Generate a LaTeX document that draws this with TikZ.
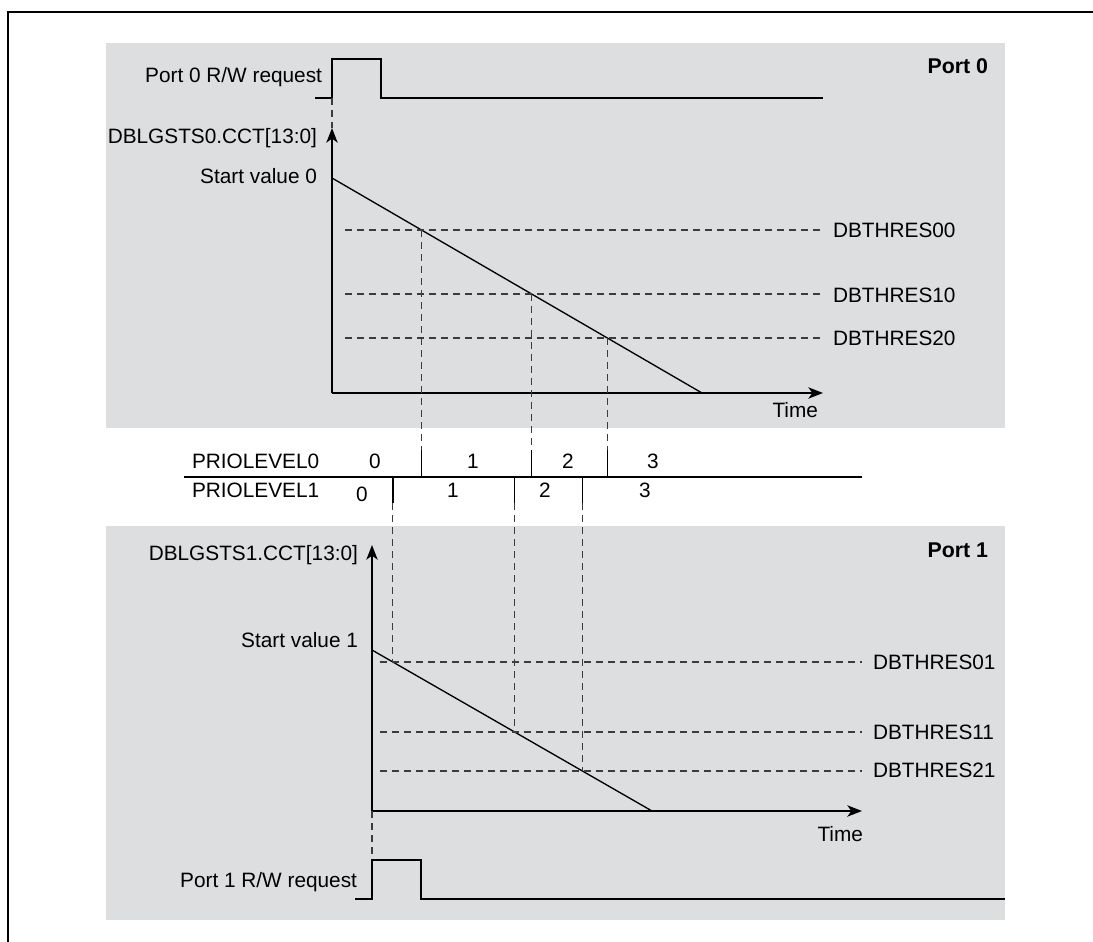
\documentclass[tikz,border=0pt]{standalone}
\usepackage{fontspec}
\setmainfont{Liberation Sans}
\usetikzlibrary{arrows.meta,calc}
\definecolor{panel}{RGB}{221,222,224}
\definecolor{dashgray}{RGB}{60,60,60}
\begin{document}
\begin{tikzpicture}[x={(0.75pt,0pt)},y={(0pt,-0.75pt)},
  every node/.style={font=\fontsize{15.6}{18}\selectfont, inner sep=0pt, outer sep=0pt},
  sig/.style={line width=1.2pt},
  thr/.style={dashgray, line width=0.9pt, dash pattern=on 5.5pt off 3.5pt},
  vdash/.style={dashgray, line width=0.9pt, dash pattern=on 5.5pt off 3.5pt},
  axis/.style={line width=1.2pt, -{Stealth[length=11pt,width=8.5pt,inset=3pt]}},
  rlbl/.style={anchor=base east},
  llbl/.style={anchor=base west},
  clbl/.style={anchor=base},
  portlbl/.style={anchor=base east, font=\fontsize{16}{18}\selectfont\bfseries},
  tick/.style={line width=1.2pt}
]
\useasboundingbox (0,0) rectangle (1093,942);
% frame
\draw[line width=2pt] (8,942) -- (8,12) -- (1093,12);
% panels
\fill[panel] (106,43) rectangle (1005,428);
\fill[panel] (106,526) rectangle (1005,920);

% ---------- Port 0 ----------
\node[portlbl] (p0) at (988,74) {Port 0};
\node[rlbl] (req0) at (322,83) {Port 0 R/W request};
\coordinate (r0a) at (315,98);
\coordinate (r0b) at (332,98);
\coordinate (r0c) at (381,98);
\coordinate (r0d) at (823,98);
\draw[sig] (r0a) -- (r0b) -- ++(0,-39) -| (r0c) -- (r0d);
\coordinate (o0) at (332,393);
\coordinate (y0) at (332,128);
\coordinate (x0) at (823,393);
\draw[vdash] (r0b) -- (y0);
\draw[axis] (o0) -- (y0);
\draw[axis] (o0) -- (x0);
\node[rlbl] (ax0) at (317,143) {DBLGSTS0.CCT[13:0]};
\node[rlbl] (sv0) at (317,183) {Start value 0};
\node[rlbl] (tm0) at (818,417) {Time};
\coordinate (s0) at (332,178);
\coordinate (e0) at (702,393);
\draw[sig,line width=1pt] (s0) -- (e0);
% thresholds
\foreach \y/\b/\n in {230/237/DBTHRES00, 294/302/DBTHRES10, 338/345/DBTHRES20}{
  \draw[thr] (345,\y) -- (823,\y);
  \node[llbl] (l\n) at (833,\b) {\n};
}
% intersections and level ticks
\coordinate (i0) at ($(s0)!0.24186!(e0)$);
\coordinate (i1) at ($(s0)!0.53953!(e0)$);
\coordinate (i2) at ($(s0)!0.74419!(e0)$);
\foreach \c in {i0,i1,i2}{
  \draw[vdash] (\c) -- (\c |- 0,450);
  \draw[tick] (\c |- 0,450) -- (\c |- 0,477);
}

% ---------- PRIOLEVEL rows ----------
\coordinate (pl) at (184,477);
\coordinate (pr) at (862,477);
\draw[sig] (pl) -- (pr);
\node[llbl] (pl0) at (192,468) {PRIOLEVEL0};
\node[llbl] (pl1) at (192,497) {PRIOLEVEL1};
\node[clbl] (a0) at (375,468) {0};
\node[clbl] (a1) at (473,468) {1};
\node[clbl] (a2) at (568,468) {2};
\node[clbl] (a3) at (653,468) {3};
\node[clbl] (b0) at (362,501) {0};
\node[clbl] (b1) at (453,497) {1};
\node[clbl] (b2) at (545,497) {2};
\node[clbl] (b3) at (645,497) {3};

% ---------- Port 1 ----------
\node[portlbl] (p1) at (988,557) {Port 1};
\coordinate (o1) at (372,811);
\coordinate (y1) at (372,545);
\coordinate (x1) at (862,811);
\draw[axis] (o1) -- (y1);
\draw[axis] (o1) -- (x1);
\node[rlbl] (ax1) at (358,560) {DBLGSTS1.CCT[13:0]};
\node[rlbl] (sv1) at (358,647) {Start value 1};
\node[rlbl] (tm1) at (863,841) {Time};
\coordinate (s1) at (372,650);
\coordinate (e1) at (652,811);
\draw[sig,line width=1pt] (s1) -- (e1);
\foreach \y/\b/\n in {662/669/DBTHRES01, 732/739/DBTHRES11, 771/777/DBTHRES21}{
  \draw[thr] (380,\y) -- (862,\y);
  \node[llbl] (l\n) at (873,\b) {\n};
}
\coordinate (j0) at ($(s1)!0.07453!(e1)$);
\coordinate (j1) at ($(s1)!0.50932!(e1)$);
\coordinate (j2) at ($(s1)!0.75155!(e1)$);
\foreach \c in {j0,j1,j2}{
  \draw[tick] (\c |- 0,477) -- (\c |- 0,503);
  \draw[vdash] (\c |- 0,503) -- (\c);
}
% request 1
\coordinate (r1a) at (355,899);
\coordinate (r1b) at (372,899);
\coordinate (r1c) at (421,899);
\coordinate (r1d) at (1005,899);
\draw[vdash] (o1) -- (372,860);
\draw[sig] (r1a) -- (r1b) -- ++(0,-39) -| (r1c) -- (r1d);
\node[rlbl] (req1) at (357,887) {Port 1 R/W request};
\end{tikzpicture}
\end{document}
